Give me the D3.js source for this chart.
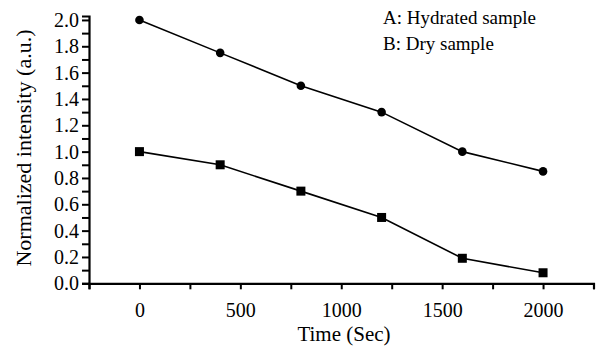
<!DOCTYPE html>
<html>
<head>
<meta charset="utf-8">
<script src="https://cdn.jsdelivr.net/npm/d3@7"></script>
<style>
  html, body { margin: 0; padding: 0; background: #fff; }
  svg { display: block; }
  svg text { font-family: "Liberation Serif", "Times New Roman", Times, serif; fill: #000; }
</style>
</head>
<body>
<div id="chart"></div>
<script>
// data
var times = [0, 400, 800, 1200, 1600, 2000];
var hydrated = [2.0, 1.75, 1.5, 1.3, 1.0, 0.85];
var dry = [1.0, 0.9, 0.7, 0.5, 0.19, 0.08];
var xTickValues = [-250, 0, 250, 500, 750, 1000, 1250, 1500, 1750, 2000, 2250];
var yTickValues = [0, 0.1, 0.2, 0.3, 0.4, 0.5, 0.6, 0.7, 0.8, 0.9, 1.0,
                   1.1, 1.2, 1.3, 1.4, 1.5, 1.6, 1.7, 1.8, 1.9, 2.0];
var legendLabels = ["A: Hydrated sample", "B: Dry sample"];

var width = 597,
    height = 354;

var x = d3.scaleLinear().domain([-250, 2250]).range([89, 593.5]);
var y = d3.scaleLinear().domain([0, 2.03]).range([283.3, 16]);

var svg = d3.select("#chart").append("svg")
    .attr("width", width)
    .attr("height", height);

svg.append("rect")
    .attr("width", width)
    .attr("height", height)
    .attr("fill", "#fff");

// x axis
var xAxis = svg.append("g")
    .attr("transform", "translate(0," + y(0) + ")")
    .call(d3.axisBottom(x)
        .tickValues(xTickValues)
        .tickSizeOuter(0)
        .tickSize(6)
        .tickPadding(14)
        .tickFormat((d) => (d >= 0 && d % 500 === 0) ? d : ""));

// y axis
var yAxis = svg.append("g")
    .attr("transform", "translate(" + x(-250) + ",0)")
    .call(d3.axisLeft(y)
        .tickValues(yTickValues)
        .tickSizeOuter(0)
        .tickSize(7)
        .tickPadding(3)
        .tickFormat((d, i) => i % 2 === 0 ? d3.format(".1f")(d) : ""));

[xAxis, yAxis].forEach(function(g) {
  g.attr("font-family", null);
  g.select(".domain").attr("stroke", "#000").attr("stroke-width", 2.2);
  g.selectAll(".tick line").attr("stroke", "#000").attr("stroke-width", 2);
  g.selectAll(".tick text")
    .attr("font-size", 20)
    .attr("fill", "#000");
});

// axis titles
svg.append("text")
    .attr("x", 344)
    .attr("y", 341)
    .attr("text-anchor", "middle")
    .attr("font-size", 21)
    .text("Time (Sec)");

svg.append("text")
    .attr("transform", "translate(31,148) rotate(-90)")
    .attr("text-anchor", "middle")
    .attr("font-size", 22)
    .text("Normalized intensity (a.u.)");

// lines
var line = d3.line()
    .x((d, i) => x(times[i]))
    .y((d) => y(d));

svg.append("path")
    .datum(hydrated)
    .attr("fill", "none")
    .attr("stroke", "#000")
    .attr("stroke-width", 1.6)
    .attr("d", line);

svg.append("path")
    .datum(dry)
    .attr("fill", "none")
    .attr("stroke", "#000")
    .attr("stroke-width", 1.6)
    .attr("d", line);

// markers
svg.selectAll(".dotA")
    .data(hydrated)
    .enter().append("circle")
    .attr("class", "dotA")
    .attr("cx", (d, i) => x(times[i]))
    .attr("cy", (d) => y(d))
    .attr("r", 4.3)
    .attr("fill", "#000");

svg.selectAll(".dotB")
    .data(dry)
    .enter().append("rect")
    .attr("class", "dotB")
    .attr("x", (d, i) => x(times[i]) - 4.5)
    .attr("y", (d) => y(d) - 4.5)
    .attr("width", 9)
    .attr("height", 9)
    .attr("fill", "#000");

// legend text
svg.selectAll(".legend")
    .data(legendLabels)
    .enter().append("text")
    .attr("class", "legend")
    .attr("x", 383)
    .attr("y", (d, i) => 24 + i * 26)
    .attr("font-size", 19)
    .text((d) => d);
</script>
</body>
</html>
